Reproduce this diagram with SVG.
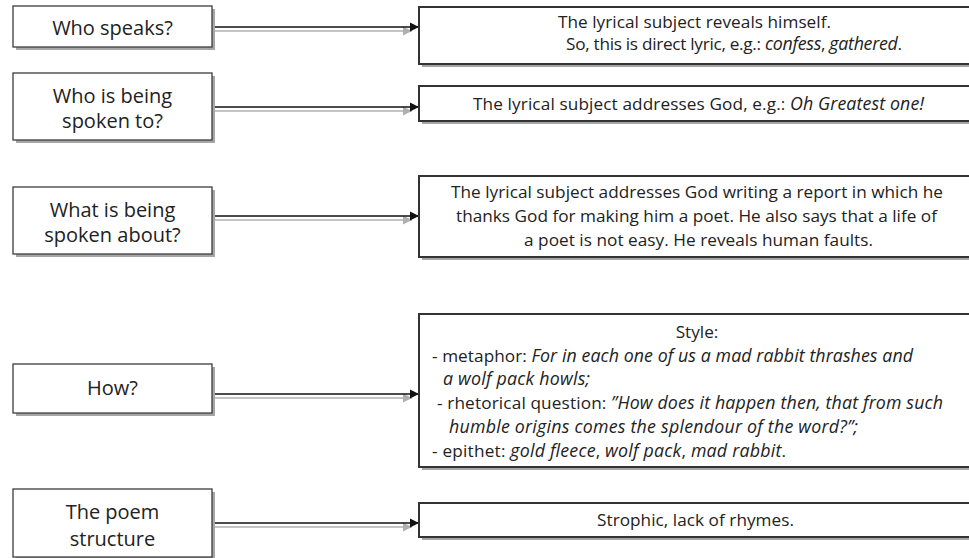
<svg xmlns="http://www.w3.org/2000/svg" width="969" height="558" viewBox="0 0 969 558">
<style>
.bg{fill:#ffffff}
.sh{fill:#a6a6a6}
.lb{fill:#ffffff;stroke:#3c3c3c;stroke-width:1.3}
.rb{fill:#ffffff;stroke:#333333;stroke-width:2}
.lt{font-family:"Open Sans",sans-serif;font-size:20px;fill:#222;text-anchor:middle}
.rt{font-family:"Open Sans",sans-serif;font-size:17.2px;fill:#222}
.c{text-anchor:middle}
.i{font-style:italic;font-size:17.8px}
.ln{stroke:#111;stroke-width:1.6;fill:none}
.lsh{stroke:#b0b0b0;stroke-width:1.6;fill:none}
</style>
<defs>
<marker id="ah" markerUnits="userSpaceOnUse" markerWidth="10" markerHeight="10" refX="9" refY="5" orient="auto">
<path d="M0,0.5 L9,5 L0,9.5 Z" fill="#111"/>
</marker>
<marker id="ahs" markerUnits="userSpaceOnUse" markerWidth="10" markerHeight="10" refX="9" refY="5" orient="auto">
<path d="M0,0.5 L9,5 L0,9.5 Z" fill="#b0b0b0"/>
</marker>
</defs>
<rect class="bg" x="0" y="0" width="969" height="558"/>

<g id="connectors">
<line class="lsh" x1="214" y1="31" x2="412" y2="31" marker-end="url(#ahs)"/>
<line class="ln" x1="212" y1="27" x2="419" y2="27" marker-end="url(#ah)"/>
<line class="lsh" x1="214" y1="111" x2="412" y2="111" marker-end="url(#ahs)"/>
<line class="ln" x1="212" y1="107" x2="419" y2="107" marker-end="url(#ah)"/>
<line class="lsh" x1="214" y1="220" x2="412" y2="220" marker-end="url(#ahs)"/>
<line class="ln" x1="212" y1="216" x2="419" y2="216" marker-end="url(#ah)"/>
<line class="lsh" x1="214" y1="398" x2="412" y2="398" marker-end="url(#ahs)"/>
<line class="ln" x1="212" y1="394" x2="419" y2="394" marker-end="url(#ah)"/>
<line class="lsh" x1="214" y1="527" x2="412" y2="527" marker-end="url(#ahs)"/>
<line class="ln" x1="212" y1="523" x2="419" y2="523" marker-end="url(#ah)"/>
</g>

<g id="q1">
<rect class="sh" x="16" y="9" width="199" height="41"/>
<rect class="lb" x="13" y="6" width="199" height="41"/>
<text class="lt" x="112.5" y="35">Who speaks?</text>
</g>
<g id="q2">
<rect class="sh" x="16" y="76" width="199" height="67"/>
<rect class="lb" x="13" y="73" width="199" height="67"/>
<text class="lt" x="112.5" y="103">Who is being</text>
<text class="lt" x="112.5" y="128">spoken to?</text>
</g>
<g id="q3">
<rect class="sh" x="16" y="190" width="199" height="67"/>
<rect class="lb" x="13" y="187" width="199" height="67"/>
<text class="lt" x="112.5" y="217">What is being</text>
<text class="lt" x="112.5" y="242">spoken about?</text>
</g>
<g id="q4">
<rect class="sh" x="16" y="367" width="199" height="49"/>
<rect class="lb" x="13" y="364" width="199" height="49"/>
<text class="lt" x="112.5" y="395">How?</text>
</g>
<g id="q5">
<rect class="sh" x="16" y="492" width="199" height="68"/>
<rect class="lb" x="13" y="489" width="199" height="68"/>
<text class="lt" x="112.5" y="519">The poem</text>
<text class="lt" x="112.5" y="546">structure</text>
</g>

<g id="a1">
<rect class="sh" x="422" y="10" width="560" height="57"/>
<rect class="rb" x="419" y="7" width="560" height="57"/>
<text class="rt c" x="694.5" y="28" textLength="273" lengthAdjust="spacing">The lyrical subject reveals himself.</text>
<text class="rt c" x="734" y="50" textLength="336" lengthAdjust="spacing">So, this is direct lyric, e.g.: <tspan class="i">confess</tspan>, <tspan class="i">gathered</tspan>.</text>
</g>
<g id="a2">
<rect class="sh" x="422" y="89" width="560" height="35"/>
<rect class="rb" x="419" y="86" width="560" height="35"/>
<text class="rt c" x="698.5" y="110" textLength="451" lengthAdjust="spacing">The lyrical subject addresses God, e.g.: <tspan class="i">Oh Greatest one!</tspan></text>
</g>
<g id="a3">
<rect class="sh" x="422" y="179" width="560" height="81"/>
<rect class="rb" x="419" y="176" width="560" height="81"/>
<text class="rt c" x="697" y="198" textLength="492" lengthAdjust="spacing">The lyrical subject addresses God writing a report in which he</text>
<text class="rt c" x="696.5" y="222" textLength="481" lengthAdjust="spacing">thanks God for making him a poet. He also says that a life of</text>
<text class="rt c" x="698.5" y="246" textLength="349" lengthAdjust="spacing">a poet is not easy. He reveals human faults.</text>
</g>
<g id="a4">
<rect class="sh" x="422" y="317" width="560" height="153"/>
<rect class="rb" x="419" y="314" width="560" height="153"/>
<text class="rt c" x="697" y="338">Style:</text>
<text class="rt" x="432" y="362" textLength="481" lengthAdjust="spacing">- metaphor: <tspan class="i">For in each one of us a mad rabbit thrashes and</tspan></text>
<text class="rt i" x="443" y="385" textLength="147" lengthAdjust="spacing">a wolf pack howls;</text>
<text class="rt" x="437" y="409" textLength="506" lengthAdjust="spacing">- rhetorical question: <tspan class="i">”How does it happen then, that from such</tspan></text>
<text class="rt i" x="449" y="433" textLength="409" lengthAdjust="spacing">humble origins comes the splendour of the word?”;</text>
<text class="rt" x="432" y="457" textLength="354" lengthAdjust="spacing">- epithet: <tspan class="i">gold fleece</tspan>, <tspan class="i">wolf pack</tspan>, <tspan class="i">mad rabbit</tspan>.</text>
</g>
<g id="a5">
<rect class="sh" x="422" y="506" width="560" height="34"/>
<rect class="rb" x="419" y="503" width="560" height="34"/>
<text class="rt c" x="695.5" y="526" textLength="197" lengthAdjust="spacing">Strophic, lack of rhymes.</text>
</g>
</svg>
